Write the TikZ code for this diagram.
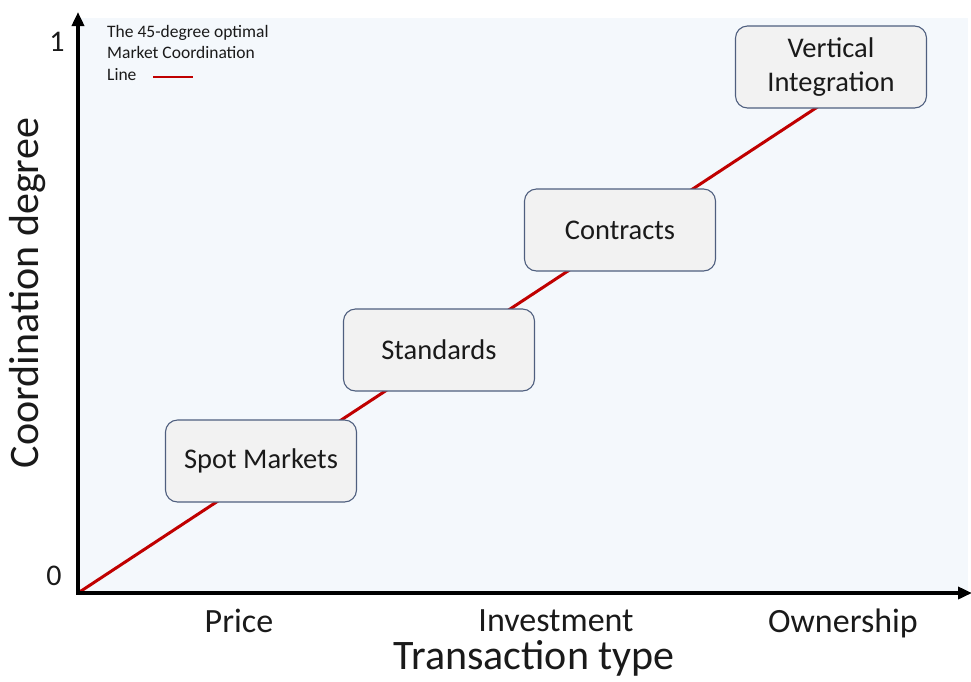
\documentclass[tikz,border=0pt]{standalone}
\usepackage{fontspec}
\setmainfont{Carlito}
\usetikzlibrary{arrows.meta}
\definecolor{plotbg}{HTML}{F4F8FC}
\definecolor{boxfill}{HTML}{F2F2F2}
\definecolor{boxline}{HTML}{4F5F7F}
\definecolor{lineRed}{HTML}{C00000}
\definecolor{txt}{HTML}{1A1A1A}
\tikzset{
  stagebox/.style={draw=boxline, line width=1.1pt, fill=boxfill, rounded corners=12pt,
    minimum width=191pt, minimum height=82pt, align=center, text=txt,
    font=\fontsize{28.5}{34}\selectfont, inner sep=0pt},
  axisline/.style={line width=3.6pt, -{Triangle[length=14pt,width=12pt]}},
  coordline/.style={draw=lineRed, line width=3pt},
  ticklabel/.style={font=\fontsize{34}{38}\selectfont, text=txt},
  legendtext/.style={font=\fontsize{17.5}{21.5}\selectfont, text=txt, align=left, anchor=north west, inner sep=0pt}
}
\begin{document}
\begin{tikzpicture}[x=1pt, y=-1pt]
\useasboundingbox (0,0) rectangle (971,681);
% plotting area
\fill[plotbg] (80,18) rectangle (968,592);
% coordination line, drawn beneath the stage boxes
\coordinate (O) at (78,593);
\coordinate (E) at (822,104);
\draw[coordline] (O) -- (E);
% axes
\coordinate (ytop) at (78,12);
\coordinate (xend) at (972,593);
\draw[axisline] (78,594.8) -- (ytop);
\draw[axisline] (76.2,593) -- (xend);
% stages
\node[stagebox] (spot) at (261,461) {Spot Markets};
\node[stagebox] (std) at (439,350) {Standards};
\node[stagebox] (con) at (620,230) {Contracts};
\node[stagebox] (vi) at (831,67) {Vertical\\Integration};
% axis tick labels
\node[ticklabel, font=\fontsize{30}{34}\selectfont] (one) at (57,42) {1};
\node[ticklabel, font=\fontsize{30}{34}\selectfont] (zero) at (54,576) {0};
\node[ticklabel] (price) at (239,621) {Price};
\node[ticklabel] (inv) at (556,621) {Investment};
\node[ticklabel] (own) at (843,623) {Ownership};
% axis titles
\node[font=\fontsize{42}{48}\selectfont, text=txt] (xtitle) at (534,658) {Transaction type};
\node[font=\fontsize{42}{48}\selectfont, text=txt, rotate=90] (ytitle) at (28,293) {Coordination degree};
% legend
\node[legendtext] (leg) at (107,25) {The 45-degree optimal\\Market Coordination\\Line};
\coordinate (la) at (153,77);
\coordinate (lb) at (193,77);
\draw[draw=lineRed, line width=2pt] (la) -- (lb);
\end{tikzpicture}
\end{document}
